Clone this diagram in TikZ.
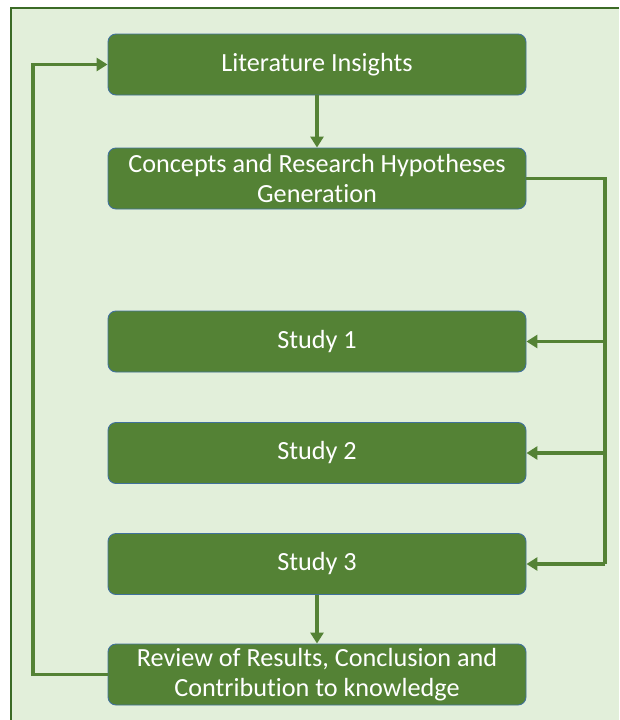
\documentclass[tikz,border=0pt]{standalone}
\usepackage{fontspec}
\setmainfont[Ligatures=NoCommon]{Carlito}
\usetikzlibrary{arrows.meta}
\definecolor{panel}{HTML}{E2EFDA}
\definecolor{frame}{HTML}{3B6B26}
\definecolor{boxfill}{HTML}{548235}
\definecolor{boxline}{HTML}{41719C}
\definecolor{link}{HTML}{548235}
\tikzset{
  stagebox/.style={rectangle, rounded corners=8pt, fill=boxfill, draw=boxline,
    line width=0.9pt, text=white, minimum width=418pt, minimum height=61pt,
    align=center, font=\fontsize{26.2}{30}\selectfont, inner sep=2pt},
  flow/.style={draw=link, line width=3.4pt,
    -{Triangle[length=11pt,width=13pt]}},
  bus/.style={draw=link, line width=3.4pt}
}
\begin{document}
\begin{tikzpicture}[x=1pt,y=-1pt]
\useasboundingbox (0,0) rectangle (619,720);
% panel behind the flow
\fill[panel] (11,8) rectangle (619,720);
\draw[frame, line width=1.5pt] (11,720) -- (11,8) -- (619,8);

\node[stagebox] (lit) at (317,64.5) {Literature Insights};
\node[stagebox] (con) at (317,178.5) {Concepts and Research Hypotheses\\Generation};
\node[stagebox] (s1) at (317,341.5) {Study 1};
\node[stagebox] (s2) at (317,453) {Study 2};
\node[stagebox] (s3) at (317,564) {Study 3};
\node[stagebox] (rev) at (317,674.5) {Review of Results, Conclusion and\\Contribution to knowledge};

\coordinate (rx) at (605,0);
\coordinate (lx) at (33,0);

\draw[flow] (lit) -- (con);
\draw[flow] (s3) -- (rev);

% distribution line on the right
\draw[bus] (con.east) -- (con.east -| rx) -- (s3.east -| rx);
\draw[flow] (s1.east -| rx) -- (s1.east);
\draw[flow] (s2.east -| rx) -- (s2.east);
\draw[flow] (s3.east -| rx) -- (s3.east);

% feedback loop on the left
\draw[flow] (rev.west) -- (rev.west -| lx) |- (lit.west);
\end{tikzpicture}
\end{document}
